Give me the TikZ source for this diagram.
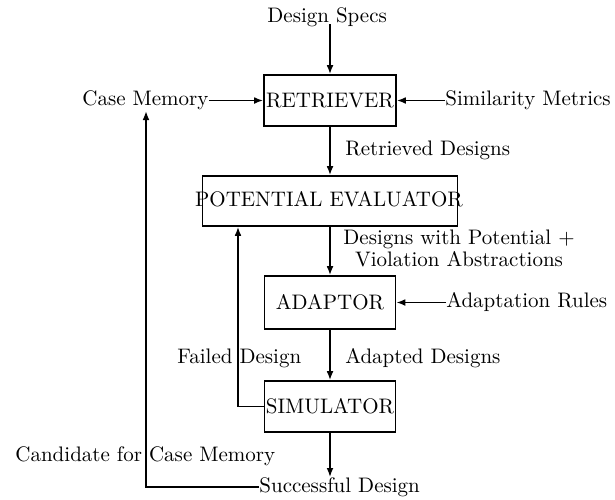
\documentclass[tikz,border=0pt]{standalone}
\usetikzlibrary{arrows.meta}
\begin{document}
\begin{tikzpicture}[x=0.5pt,y=-0.5pt,
  every node/.style={font=\fontsize{10.5}{11}\selectfont, inner sep=0pt},
  box/.style={draw, line width=0.8pt},
  flow/.style={line width=0.8pt, -{Latex[length=4.5pt,width=3.4pt]}}]
\useasboundingbox (0,0) rectangle (615,499);
% boxes
\node[box, minimum width=66pt, minimum height=25.5pt] (ret) at (330,100.5) {};
\node (rett) at (330,100.5) {RETRIEVER};
\node[box, minimum width=127.5pt, minimum height=25pt] (pe) at (330,201) {};
\node (pet) at (329,199) {POTENTIAL EVALUATOR};
\node[box, minimum width=65.5pt, minimum height=26.5pt] (ad) at (330,302.5) {};
\node (adt) at (330,302.5) {ADAPTOR};
\node[box, minimum width=65.5pt, minimum height=25.5pt] (sim) at (330,406.5) {};
\node (simt) at (330,406.5) {SIMULATOR};
% labels
\node[anchor=west] (ds) at (267,17) {Design Specs};
\node[anchor=west] (cm) at (82,100) {Case Memory};
\node[anchor=west] (sm) at (445,100) {Similarity Metrics};
\node[anchor=west] (rd) at (345,150) {Retrieved Designs};
\node[align=center] (dp) at (459,248) {Designs with Potential +\\Violation Abstractions};
\node[anchor=west] (ar) at (446,302) {Adaptation Rules};
\node[anchor=west] (fd) at (177,358) {Failed Design};
\node[anchor=west] (adl) at (345,358) {Adapted Designs};
\node[anchor=west] (cc) at (15,456) {Candidate for Case Memory};
\node[anchor=west] (sd) at (259,487) {Successful Design};
% connectors
\coordinate (dsb) at (330,24);
\coordinate (cmtip) at (146,111);
\draw[flow] (dsb) -- (ret.north);
\draw[flow] (ret.west -| cm.east) -- (ret.west);
\draw[flow] (ret.east -| sm.west) -- (ret.east);
\draw[flow] (ret.south) -- (pe.north);
\draw[flow] (pe.south) -- (ad.north);
\draw[flow] (ad.east -| ar.west) -- (ad.east);
\draw[flow] (ad.south) -- (sim.north);
\draw[flow] (sim.west) -| ([xshift=-46pt]pe.south);
\draw[flow] (sim.south) -- (sim.south |- sd.north);
\draw[flow] (sd.west) -| (cmtip);
\end{tikzpicture}
\end{document}
